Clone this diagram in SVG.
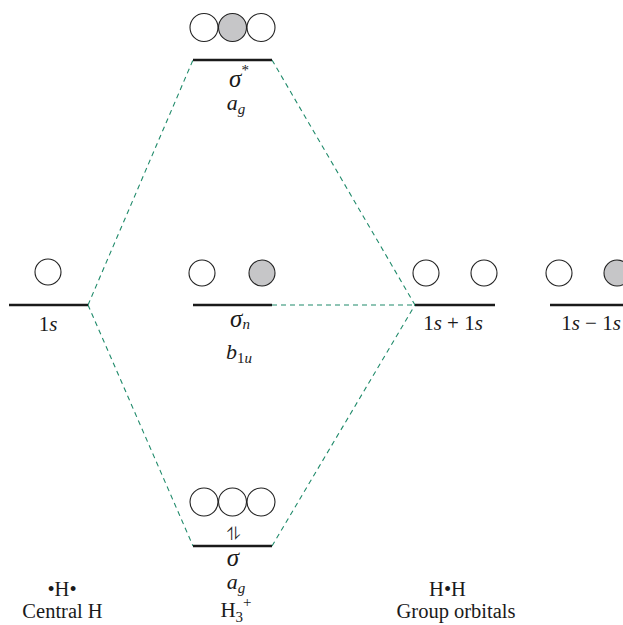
<svg xmlns="http://www.w3.org/2000/svg" width="623" height="625" viewBox="0 0 623 625">
<style>
.lvl{stroke:#1a1a1a;stroke-width:2.6;fill:none}
.orb{stroke:#222;stroke-width:1.1;fill:#fff}
.orb.g{fill:#c6c6c8}
.cn{stroke:#1f8a6a;stroke-width:1.1;stroke-dasharray:5,4;fill:none}
text{font-family:"Liberation Serif","Times New Roman",serif;font-size:21px;fill:#1a1a1a;text-anchor:middle}
.i{font-style:italic}
.sg{font-style:italic;font-size:25px}
.sub{font-size:15px}
.lb{font-size:20.5px}
.el{font-family:"DejaVu Sans",sans-serif;font-size:18px}
</style>
<rect width="623" height="625" fill="#fff"/>
<g id="connectors">
<path class="cn" d="M88,305 L193,60"/>
<path class="cn" d="M88,305 L193,546"/>
<path class="cn" d="M272,60 L415,305"/>
<path class="cn" d="M272,546 L415,305"/>
<path class="cn" d="M272,305 L415,305"/>
</g>
<g id="central-1s">
<circle class="orb" cx="48" cy="272" r="13"/>
<line class="lvl" x1="9" y1="305" x2="88" y2="305"/>
<text x="48" y="331">1<tspan class="i">s</tspan></text>
</g>
<g id="sigma-star">
<circle class="orb" cx="204" cy="27.5" r="14"/>
<circle class="orb g" cx="232.5" cy="27.5" r="14"/>
<circle class="orb" cx="261" cy="27.5" r="14"/>
<line class="lvl" x1="193" y1="60" x2="272" y2="60"/>
<text x="239" y="87"><tspan class="sg">σ</tspan><tspan class="sub" dy="-12">*</tspan></text>
<text x="236" y="110"><tspan class="i" style="font-size:22px">a</tspan><tspan class="i sub" dy="4">g</tspan></text>
</g>
<g id="sigma-n">
<circle class="orb" cx="202" cy="273" r="13"/>
<circle class="orb g" cx="262" cy="273" r="13"/>
<line class="lvl" x1="193" y1="305" x2="272" y2="305"/>
<text x="240" y="327"><tspan class="sg">σ</tspan><tspan class="i sub" dy="2">n</tspan></text>
<text x="239" y="359"><tspan class="i" style="font-size:22px">b</tspan><tspan class="sub" dy="4">1</tspan><tspan class="i sub">u</tspan></text>
</g>
<g id="sigma">
<circle class="orb" cx="204" cy="502" r="14"/>
<circle class="orb" cx="232.5" cy="502" r="14"/>
<circle class="orb" cx="261" cy="502" r="14"/>
<text class="el" x="233" y="540">⥮</text>
<line class="lvl" x1="193" y1="546" x2="272" y2="546"/>
<text x="233" y="566"><tspan class="sg">σ</tspan></text>
<text x="236" y="589"><tspan class="i" style="font-size:22px">a</tspan><tspan class="i sub" dy="4">g</tspan></text>
<text x="236" y="617">H<tspan class="sub" dy="5">3</tspan><tspan class="sub" dy="-15">+</tspan></text>
</g>
<g id="group-plus">
<circle class="orb" cx="426" cy="273" r="13"/>
<circle class="orb" cx="484" cy="273" r="13"/>
<line class="lvl" x1="415" y1="305" x2="495" y2="305"/>
<text x="453" y="330">1<tspan class="i">s</tspan> + 1<tspan class="i">s</tspan></text>
</g>
<g id="group-minus">
<circle class="orb" cx="559" cy="273" r="13"/>
<circle class="orb g" cx="617" cy="273" r="13"/>
<line class="lvl" x1="550" y1="305" x2="630" y2="305"/>
<text x="591" y="330">1<tspan class="i">s</tspan> − 1<tspan class="i">s</tspan></text>
</g>
<g id="label-central">
<text class="lb" x="62" y="596">•H•</text>
<text class="lb" x="62.5" y="618">Central H</text>
</g>
<g id="label-group">
<text class="lb" x="447.5" y="596">H•H</text>
<text class="lb" x="456" y="618">Group orbitals</text>
</g>
</svg>
